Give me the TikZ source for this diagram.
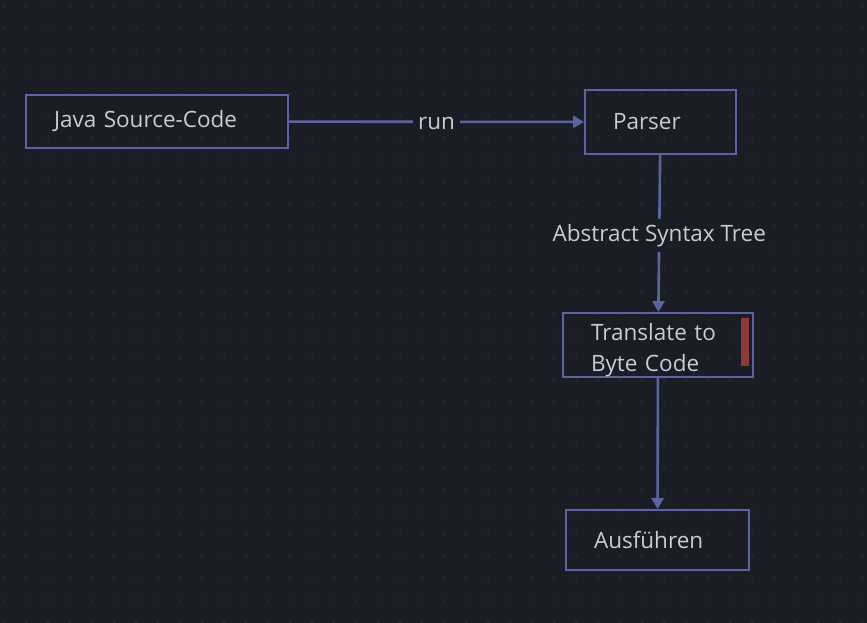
\documentclass[tikz,border=0pt]{standalone}
\usepackage{fontspec}
\setmainfont{Open Sans}
\usetikzlibrary{arrows.meta}

\definecolor{bgdark}{HTML}{1B1D24}
\definecolor{griddot}{HTML}{30343F}
\definecolor{edgeblue}{HTML}{5B64A3}
\definecolor{labelgray}{HTML}{C5CDD8}
\definecolor{barred}{HTML}{8E3A3A}

\tikzset{
  stage/.style={draw=edgeblue, line width=2pt, text=labelgray, align=left,
    inner xsep=28pt, inner ysep=0pt, font=\fontsize{22.5}{31}\selectfont},
  flow/.style={draw=edgeblue, line width=2.6pt, -{Triangle[width=12pt,length=11pt]}},
  edgelabel/.style={fill=bgdark, text=labelgray, inner sep=5pt, yshift=-2pt,
    font=\fontsize{22.5}{26}\selectfont}
}

\begin{document}
\begin{tikzpicture}[x=1pt, y=-1pt]
        % Background and dot grid
        \fill[bgdark] (0,0) rectangle (867,623);
        \useasboundingbox (0,0) rectangle (867,623);
        \foreach \gx in {4,26,...,866}
          \foreach \gy in {6,28,...,622}
            \fill[griddot] (\gx,\gy) circle (1pt);

        % Nodes for the pipeline
        \node[stage, text width=206pt, minimum height=53pt] (java) at (157,121.5) {Java Source-Code};
        \node[stage, text width=95pt, minimum height=64pt] (parser) at (660.5,122) {Parser};
        \node[stage, text width=134pt, minimum height=64pt] (translate) at (658,345) {\rule{0pt}{27pt}Translate to\\Byte Code};
        \node[stage, text width=127pt, minimum height=60pt] (run) at (657.5,540) {Ausführen};

        % Marker bar inside the translate box
        \fill[barred] (741,318) rectangle (749,366);

        \draw[flow] (java) -- node[midway, edgelabel] {run} (parser);
        \draw[flow] (parser) -- node[midway, edgelabel] {Abstract Syntax Tree} (translate);
        \draw[flow] (translate) -- (run);

\end{tikzpicture}
\end{document}
